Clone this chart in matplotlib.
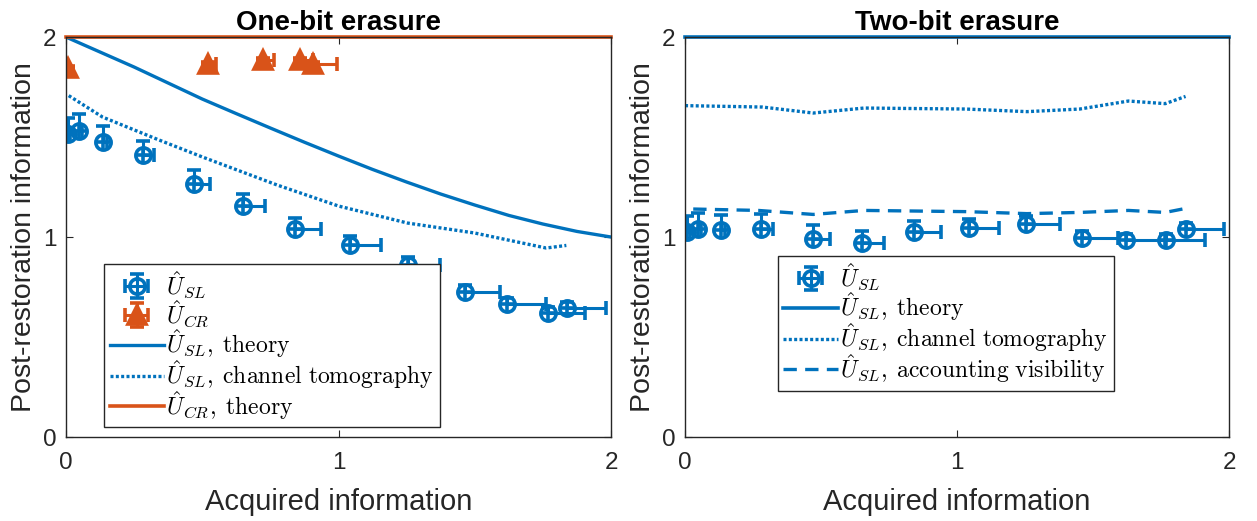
import numpy as np
import matplotlib
matplotlib.use('Agg')
import matplotlib.pyplot as plt

plt.rcParams['font.family'] = ['Liberation Sans', 'DejaVu Sans']
plt.rcParams['mathtext.fontset'] = 'cm'

BLUE = '#0072BD'
ORANGE = '#D95319'
DARK = '#262626'

# ─── One-bit erasure: measured U_SL
sl1_x = [0.006, 0.047, 0.134, 0.282, 0.468, 0.650, 0.839, 1.043, 1.254, 1.465, 1.620, 1.767, 1.839]
sl1_y = [1.517, 1.532, 1.477, 1.408, 1.267, 1.153, 1.042, 0.958, 0.862, 0.727, 0.665, 0.622, 0.643]
sl1_xerr = [0.01, 0.01, 0.015, 0.04, 0.061, 0.080, 0.097, 0.112, 0.120, 0.127, 0.140, 0.138, 0.143]
sl1_yerr = [0.078, 0.083, 0.077, 0.070, 0.067, 0.063, 0.053, 0.045, 0.04, 0.035, 0.03, 0.03, 0.03]

# measured U_CR
cr1_x = [0.006, 0.522, 0.723, 0.857, 0.908]
cr1_y = [1.845, 1.867, 1.887, 1.883, 1.867]
cr1_xerr = [0.005, 0.03, 0.04, 0.05, 0.085]
cr1_yerr = [0.01, 0.01, 0.01, 0.01, 0.01]

# theory curves
th1_x = [0.0, 0.125, 0.25, 0.375, 0.5, 0.625, 0.75, 0.875, 1.0,
         1.125, 1.25, 1.375, 1.5, 1.625, 1.75, 1.875, 2.0]
th1_y = [2.0, 1.925, 1.85, 1.77, 1.69, 1.617, 1.545, 1.474, 1.405,
         1.338, 1.275, 1.215, 1.16, 1.108, 1.065, 1.028, 1.0]
tomo1_x = [0.01, 0.134, 0.338, 0.501, 0.775, 1.0, 1.253, 1.5, 1.762, 1.836]
tomo1_y = [1.707, 1.60, 1.487, 1.40, 1.26, 1.155, 1.07, 1.02, 0.945, 0.958]
cr_theory_x = [0.0, 2.0]
cr_theory_y = [2.0, 2.0]

# ─── Two-bit erasure: measured U_SL
sl2_x = [0.007, 0.048, 0.133, 0.280, 0.471, 0.652, 0.841, 1.043, 1.254, 1.461, 1.620, 1.768, 1.840]
sl2_y = [1.027, 1.040, 1.037, 1.040, 0.992, 0.970, 1.027, 1.043, 1.067, 0.995, 0.983, 0.987, 1.040]
sl2_xerr = [0.01, 0.01, 0.015, 0.042, 0.060, 0.080, 0.099, 0.112, 0.126, 0.130, 0.145, 0.142, 0.142]
sl2_yerr = [0.077, 0.080, 0.075, 0.075, 0.070, 0.062, 0.052, 0.047, 0.04, 0.035, 0.03, 0.03, 0.03]

th2_x = [0.0, 2.0]
th2_y = [2.0, 2.0]
tomo2_x = [0.0, 0.284, 0.471, 0.658, 1.032, 1.257, 1.451, 1.630, 1.765, 1.840]
tomo2_y = [1.657, 1.650, 1.620, 1.645, 1.640, 1.627, 1.640, 1.680, 1.667, 1.703]
vis2_x = [0.03, 0.269, 0.471, 0.658, 1.032, 1.257, 1.451, 1.630, 1.765, 1.840]
vis2_y = [1.140, 1.133, 1.113, 1.133, 1.127, 1.117, 1.123, 1.133, 1.123, 1.143]


def err_pair(vals):
    return [np.zeros(len(vals)), np.array(vals)]


def style_axes(ax, title):
    ax.set_xlim(0, 2)
    ax.set_ylim(0, 2)
    ax.set_xticks([0, 1, 2])
    ax.set_yticks([0, 1, 2])
    ax.tick_params(direction='in', top=True, right=True, labelsize=17.5,
                   colors=DARK, length=5)
    ax.tick_params(axis='x', pad=11)
    ax.tick_params(axis='y', pad=7)
    for sp in ax.spines.values():
        sp.set_color(DARK)
        sp.set_linewidth(1.0)
    ax.set_title(title, fontsize=20, fontweight='bold', pad=5)
    ax.set_xlabel('Acquired information', fontsize=21, color=DARK, labelpad=10)
    ax.set_ylabel('Post-restoration information', fontsize=20.5, color=DARK, labelpad=4)


fig = plt.figure(figsize=(12.57, 5.21), dpi=100)
ax1 = fig.add_axes([0.0525, 0.1612, 0.4336, 0.7677])
ax2 = fig.add_axes([0.545, 0.1612, 0.4328, 0.7677])

eb_kw = dict(elinewidth=2.2, capsize=5, capthick=2.2, markeredgewidth=2.6)

# ─── left panel
h_sl = ax1.errorbar(sl1_x, sl1_y, xerr=err_pair(sl1_xerr), yerr=err_pair(sl1_yerr),
                    fmt='o', ms=11, mfc='none', color=BLUE, **eb_kw)
h_cr = ax1.errorbar(cr1_x, cr1_y, xerr=err_pair(cr1_xerr), yerr=err_pair(cr1_yerr),
                    fmt='^', ms=13, color=ORANGE, **eb_kw)
h_th, = ax1.plot(th1_x, th1_y, color=BLUE, lw=2.4)
h_tomo, = ax1.plot(tomo1_x, tomo1_y, color=BLUE, lw=2.4, ls=(0, (0.9, 0.7)))
h_crth, = ax1.plot(cr_theory_x, cr_theory_y, color=ORANGE, lw=2.6, clip_on=False)

leg_kw = dict(fontsize=17, frameon=True, fancybox=False, framealpha=1, edgecolor=DARK,
              loc='lower left', borderaxespad=0, handlelength=2.3, handletextpad=0.1,
              labelspacing=-0.09, borderpad=0.25)
leg1 = ax1.legend([h_sl, h_cr, h_th, h_tomo, h_crth],
                  [r'$\hat{U}_{SL}$', r'$\hat{U}_{CR}$',
                   r'$\hat{U}_{SL},\;\mathrm{theory}$',
                   r'$\hat{U}_{SL},\;\mathrm{channel\ tomography}$',
                   r'$\hat{U}_{CR},\;\mathrm{theory}$'],
                  bbox_to_anchor=(0.069, 0.024), **leg_kw)
leg1.get_frame().set_linewidth(1.0)
style_axes(ax1, 'One-bit erasure')

# ─── right panel
h2_sl = ax2.errorbar(sl2_x, sl2_y, xerr=err_pair(sl2_xerr), yerr=err_pair(sl2_yerr),
                     fmt='o', ms=11, mfc='none', color=BLUE, **eb_kw)
h2_th, = ax2.plot(th2_x, th2_y, color=BLUE, lw=2.6, clip_on=False)
h2_tomo, = ax2.plot(tomo2_x, tomo2_y, color=BLUE, lw=2.4, ls=(0, (0.9, 0.7)))
h2_vis, = ax2.plot(vis2_x, vis2_y, color=BLUE, lw=2.4, ls=(0, (4, 2.5)))
leg2 = ax2.legend([h2_sl, h2_th, h2_tomo, h2_vis],
                  [r'$\hat{U}_{SL}$',
                   r'$\hat{U}_{SL},\;\mathrm{theory}$',
                   r'$\hat{U}_{SL},\;\mathrm{channel\ tomography}$',
                   r'$\hat{U}_{SL},\;\mathrm{accounting\ visibility}$'],
                  bbox_to_anchor=(0.17, 0.116), **leg_kw)
leg2.get_frame().set_linewidth(1.0)
style_axes(ax2, 'Two-bit erasure')

fig.savefig('out.png', dpi=100)
